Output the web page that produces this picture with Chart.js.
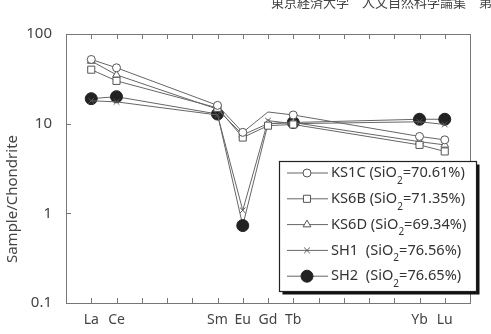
<!DOCTYPE html>
<html>
<head>
<meta charset="utf-8">
<script src="https://cdn.jsdelivr.net/npm/chart.js@4/dist/chart.umd.min.js"></script>
<style>
  body { margin: 0; background: #fff; }
  #wrap { position: relative; width: 491px; height: 334px; overflow: hidden; }
  #header { position: absolute; left: 271px; top: -8px; font: 13px "Noto Sans CJK JP"; color: #444; white-space: nowrap; }
</style>
</head>
<body>
<div id="wrap">
  <canvas id="chartRee" width="491" height="334"></canvas>
  <div id="header">東京経済大学　人文自然科学論集　第１</div>
</div>
<script>
const elements = ["La", "Ce", "Pr", "Nd", "Pm", "Sm", "Eu", "Gd", "Tb", "Dy", "Ho", "Er", "Tm", "Yb", "Lu"];
const shownLabels = ["La", "Ce", "Sm", "Eu", "Gd", "Tb", "Yb", "Lu"];
const yTicks = [0.1, 1, 10, 100];

const ks1c = [52, 42, null, null, null, 16, 8, 13.5, 12.5, null, null, null, null, 7.2, 6.6];
const ks6b = [40, 30, null, null, null, 15, 7, 9.5, 9.8, null, null, null, null, 5.8, 4.9];
const ks6d = [50, 35, null, null, null, 14.5, 7.5, 10, 10.3, null, null, null, null, 6.3, 5.8];
const sh1 = [18, 17.5, null, null, null, 12.5, 1.08, 10.8, 10, null, null, null, null, 10.5, 9.8];
const sh2 = [19, 20, null, null, null, 12.8, 0.73, 10, 10.3, null, null, null, null, 11.2, 11.2];

const seriesNames = ["KS1C", "KS6B", "KS6D", "SH1", "SH2"];
const sio2 = ["70.61", "71.35", "69.34", "76.56", "76.65"];

const lineColor = "#666";
const markColor = "#555";

function toPoints(vals) {
  const pts = [];
  vals.forEach((v, i) => { if (v !== null) pts.push({ x: i + 1, y: v }); });
  return pts;
}

// markers that are not drawn in the original (hidden behind other lines)
function radii(vals, r, hide) {
  return toPoints(vals).map((p) => (hide.includes(elements[p.x - 1]) ? 0 : r));
}

const styles = [
  { pointStyle: "circle", radius: 4, fill: "#fff", hide: ["Gd"] },
  { pointStyle: "rect", radius: 5, fill: "#fff", hide: [] },
  { pointStyle: "triangle", radius: 4.5, fill: "#fff", hide: [] },
  { pointStyle: "crossRot", radius: 4, fill: "#fff", hide: [] },
  { pointStyle: "circle", radius: 6, fill: "#222", hide: ["Gd"] },
];
const allSeries = [ks1c, ks6b, ks6d, sh1, sh2];

const datasets = allSeries.map((vals, i) => ({
  label: seriesNames[i],
  data: toPoints(vals),
  borderColor: lineColor,
  borderWidth: 1,
  pointStyle: styles[i].pointStyle,
  pointRadius: radii(vals, styles[i].radius, styles[i].hide),
  pointBackgroundColor: styles[i].fill,
  pointBorderColor: i === 4 ? "#222" : markColor,
  pointBorderWidth: 1,
  tension: 0,
  spanGaps: true,
}));

const framePlugin = {
  id: "frame",
  afterDatasetsDraw(chart) {
    const ctx = chart.ctx;
    const a = chart.chartArea;
    const xs = chart.scales.x;
    const ys = chart.scales.y;
    ctx.save();
    ctx.strokeStyle = "#777";
    ctx.lineWidth = 1;
    ctx.strokeRect(Math.round(a.left) + 0.5, Math.round(a.top) + 0.5, Math.round(a.right - a.left), Math.round(a.bottom - a.top));
    ctx.beginPath();
    elements.forEach((e, i) => {
      const px = Math.round(xs.getPixelForValue(i + 1)) + 0.5;
      ctx.moveTo(px, a.bottom);
      ctx.lineTo(px, a.bottom - 5);
      ctx.moveTo(px, a.top);
      ctx.lineTo(px, a.top + 5);
    });
    yTicks.forEach((v) => {
      const py = Math.round(ys.getPixelForValue(v)) + 0.5;
      ctx.moveTo(a.left, py);
      ctx.lineTo(a.left + 5, py);
    });
    ctx.stroke();

    // y title
    ctx.fillStyle = "#444";
    ctx.font = '15px "Noto Sans"';
    ctx.textAlign = "center";
    ctx.textBaseline = "middle";
    ctx.translate(13, 199);
    ctx.rotate(-Math.PI / 2);
    ctx.fillText("Sample/Chondrite", 0, 0);
    ctx.restore();

    // legend box with shadow
    const bx = 279.5, by = 161.5, bw = 197, bh = 130;
    ctx.save();
    ctx.fillStyle = "#111";
    ctx.fillRect(bx + 3, by + 3, bw, bh);
    ctx.fillStyle = "#fff";
    ctx.fillRect(bx, by, bw, bh);
    ctx.strokeStyle = "#222";
    ctx.lineWidth = 1.2;
    ctx.strokeRect(bx, by, bw, bh);
    seriesNames.forEach((name, i) => {
      const ry = 173 + i * 25.8;
      ctx.strokeStyle = lineColor;
      ctx.lineWidth = 1;
      ctx.beginPath();
      ctx.moveTo(287, ry);
      ctx.lineTo(328, ry);
      ctx.stroke();
      ctx.fillStyle = styles[i].fill;
      ctx.strokeStyle = i === 4 ? "#222" : markColor;
      Chart.helpers.drawPoint(ctx, { pointStyle: styles[i].pointStyle, radius: styles[i].radius, rotation: 0, borderWidth: 1 }, 307, ry);
      ctx.fillStyle = "#333";
      ctx.textAlign = "left";
      ctx.textBaseline = "middle";
      ctx.font = '14.6px "Noto Sans"';
      let tx = 331;
      const head = name + (name.length < 4 ? "  (SiO" : " (SiO");
      ctx.fillText(head, tx, ry);
      tx += ctx.measureText(head).width;
      ctx.font = '10px "Noto Sans"';
      ctx.fillText("2", tx, ry + 8);
      tx += ctx.measureText("2").width;
      ctx.font = '14.6px "Noto Sans"';
      ctx.fillText("=" + sio2[i] + "%)", tx, ry);
    });
    ctx.restore();
  },
};

new Chart(document.getElementById("chartRee"), {
  type: "line",
  data: { datasets: datasets },
  options: {
    responsive: false,
    animation: false,
    events: [],
    layout: { padding: { top: 34, right: 21, left: 0, bottom: 0 } },
    plugins: { legend: { display: false }, tooltip: { enabled: false } },
    scales: {
      x: {
        type: "linear",
        min: 0,
        max: 16,
        afterBuildTicks: (scale) => {
          scale.ticks = elements.map((e, i) => ({ value: i + 1 }));
        },
        afterFit: (scale) => { scale.height = 31; },
        grid: { display: false, drawTicks: false },
        border: { display: false },
        ticks: {
          autoSkip: false,
          maxRotation: 0,
          padding: 9,
          color: "#444",
          font: { family: "Noto Sans", size: 14 },
          callback: (v) => (shownLabels.includes(elements[v - 1]) ? elements[v - 1] : ""),
        },
      },
      y: {
        type: "logarithmic",
        min: 0.1,
        max: 100,
        afterBuildTicks: (scale) => {
          scale.ticks = yTicks.map((v) => ({ value: v }));
        },
        afterFit: (scale) => { scale.width = 66; },
        grid: { display: false, drawTicks: false },
        border: { display: false },
        ticks: {
          padding: 14,
          color: "#444",
          font: { family: "Noto Sans", size: 15 },
          callback: (v) => String(v),
        },
      },
    },
  },
  plugins: [framePlugin],
});
</script>
</body>
</html>
